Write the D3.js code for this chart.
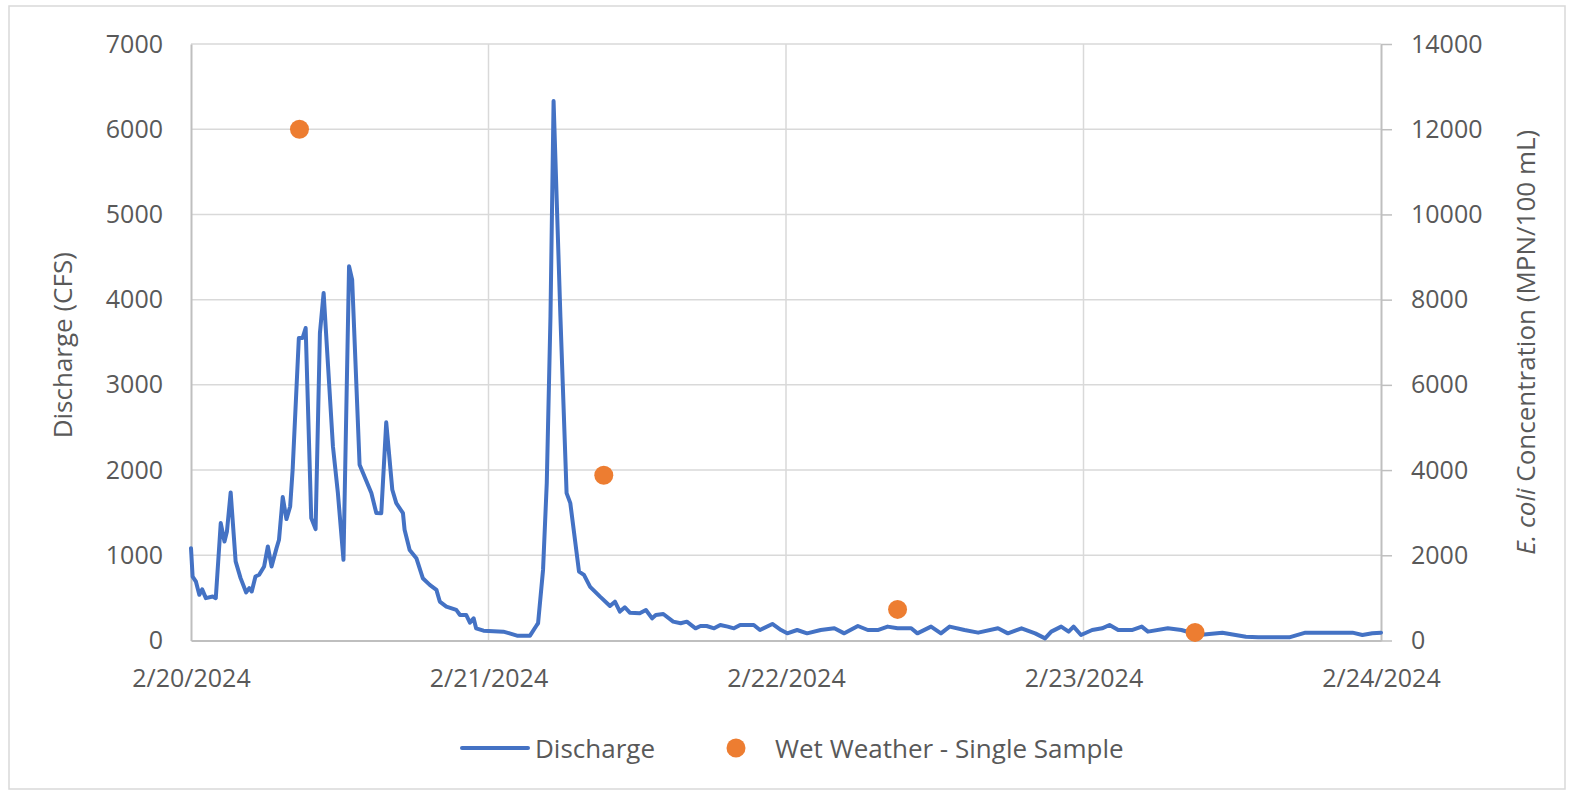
<!DOCTYPE html>
<html>
<head>
<meta charset="utf-8">
<script src="https://cdn.jsdelivr.net/npm/d3@7"></script>
<style>
  body { margin: 0; background: #fff; }
  svg { display: block; font-family: "Open Sans", sans-serif; }
</style>
</head>
<body>
<svg id="chart"></svg>
<script>
// Discharge readings: hours after 2/20/2024 00:00 and flow in CFS
const flowHours = [
  0, 0.13, 0.4, 0.67, 0.9, 1.2, 1.75, 2.0, 2.4, 2.7, 2.9, 3.2, 3.6, 4.0, 4.45, 4.7, 4.9,
  5.2, 5.5, 5.9, 6.2, 6.5, 6.9, 7.1, 7.4, 7.7, 8.0, 8.2, 8.7, 9.0, 9.25, 9.7, 10.05,
  10.4, 10.7, 11.05, 11.45, 11.85, 12.3, 12.75, 13.0, 13.6, 14.55, 14.95, 15.35, 15.75,
  16.24, 16.56, 17.1, 17.23, 17.64, 18.18, 18.7, 19.26, 19.8, 20.07, 20.6, 21.4, 21.7,
  22.2, 22.5, 22.8, 23.0, 23.6, 25.2, 25.7, 26.3, 27.35, 27.9, 28.0, 28.4, 28.7, 29.0,
  29.25, 29.8, 30.3, 30.6, 31.3, 31.7, 32.2, 33.0, 33.8, 34.2, 34.6, 35.0, 35.4, 36.2,
  36.7, 37.2, 37.5, 38.1, 38.9, 39.5, 40.0, 40.7, 41.1, 41.6, 42.2, 42.7, 43.3, 43.8,
  44.3, 44.9, 45.4, 45.9, 46.9, 47.6, 48.1, 48.9, 49.7, 50.8, 51.9, 52.7, 53.8, 54.6,
  55.4, 56.2, 57.0, 58.1, 58.6, 59.7, 60.5, 61.2, 62.4, 63.5, 65.1, 65.9, 67.0, 68.1,
  68.9, 69.4, 70.2, 70.8, 71.2, 71.8, 72.7, 73.5, 74.1, 74.8, 75.9, 76.7, 77.2, 78.8,
  79.9, 81.3, 83.2, 85.1, 86.1, 88.6, 89.9, 93.7, 94.5, 95.3, 96.0
];
const flowCfs = [
  1084, 750, 690, 536, 600, 497, 517, 497, 1378, 1162, 1280, 1738, 928, 732, 564, 614, 575,
  751, 771, 869, 1104, 869, 1084, 1182, 1683, 1425, 1573, 2004, 3550, 3550, 3667, 1436, 1307,
  3608, 4078, 3237, 2278, 1730, 947, 4391, 4235, 2063, 1730, 1495, 1494, 2560,
  1769, 1612, 1494, 1299, 1063, 966, 731, 653, 594, 457, 398, 359, 300,
  300, 210, 261, 143, 115, 104, 84, 57, 57, 182, 202, 828, 1847, 3805,
  6330, 3805, 1729, 1612, 809, 770, 630, 515, 405, 456, 339, 390, 327, 319,
  358, 260, 300, 311, 221, 202, 221, 143, 170, 170, 143, 182, 163, 143,
  182, 182, 182, 123, 194, 123, 84, 123, 84, 123, 143, 84, 170, 123,
  123, 163, 143, 143, 84, 163, 84, 163, 123, 92, 143, 84, 143, 84,
  25, 104, 163, 104, 163, 65, 123, 143, 182, 123, 123, 163, 104, 143,
  123, 65, 92, 45, 37, 37, 92, 92, 65, 84, 92
];

// Wet weather single samples: hours after 2/20/2024 00:00 and E. coli (MPN/100 mL)
const sampleHours = [8.75, 33.3, 57.0, 81.0];
const sampleEcoli = [12000, 3880, 730, 190];

// Axis ticks
const dayTicks = ['2024-02-20', '2024-02-21', '2024-02-22', '2024-02-23', '2024-02-24'];
const leftTicks = [0, 1000, 2000, 3000, 4000, 5000, 6000, 7000];
const rightTicks = [0, 2000, 4000, 6000, 8000, 10000, 12000, 14000];

document.addEventListener('DOMContentLoaded', () => {
  const width = 1575;
  const height = 795;
  const plot = { left: 191, right: 1381, top: 44, bottom: 640.5 };
  const textColor = '#595959';
  const gridColor = '#d9d9d9';
  const axisColor = '#bfbfbf';

  const parseDay = d3.timeParse('%Y-%m-%d');
  const start = parseDay(dayTicks[0]);
  const toDate = (h) => new Date(start.getTime() + h * 3600 * 1000);

  const x = d3.scaleTime()
              .domain([start, parseDay(dayTicks[dayTicks.length - 1])])
              .range([plot.left, plot.right]);
  const yLeft = d3.scaleLinear().domain([0, 7000]).range([plot.bottom, plot.top]);
  const yRight = d3.scaleLinear().domain([0, 14000]).range([plot.bottom, plot.top]);

  const svg = d3.select('#chart').attr('width', width).attr('height', height);

  // Outer chart border
  svg.append('rect')
     .attr('x', 9).attr('y', 6)
     .attr('width', 1556).attr('height', 783)
     .attr('fill', 'none')
     .attr('stroke', gridColor)
     .attr('stroke-width', 1.5);

  // Horizontal gridlines
  svg.append('g')
     .selectAll('line')
     .data(leftTicks.slice(1))
     .join('line')
     .attr('x1', plot.left).attr('x2', plot.right)
     .attr('y1', (d) => yLeft(d)).attr('y2', (d) => yLeft(d))
     .attr('stroke', gridColor).attr('stroke-width', 1.5);

  // Vertical gridlines at each day
  svg.append('g')
     .selectAll('line')
     .data(dayTicks.slice(1, -1).map(parseDay))
     .join('line')
     .attr('x1', (d) => x(d)).attr('x2', (d) => x(d))
     .attr('y1', plot.top).attr('y2', plot.bottom)
     .attr('stroke', gridColor).attr('stroke-width', 1.5);

  // Plain integer labels, no thousands separator
  const plain = d3.format('d');

  // Left axis
  const leftAxis = svg.append('g')
     .attr('transform', `translate(${plot.left},0)`)
     .call(d3.axisLeft(yLeft).tickValues(leftTicks).tickFormat(plain)
       .tickSize(0).tickPadding(28).tickSizeOuter(0));

  // Right axis
  const rightAxis = svg.append('g')
     .attr('transform', `translate(${plot.right},0)`)
     .call(d3.axisRight(yRight).tickValues(rightTicks).tickFormat(plain)
       .tickSize(11).tickPadding(19).tickSizeOuter(0));

  // Bottom axis
  const bottomAxis = svg.append('g')
     .attr('transform', `translate(0,${plot.bottom})`)
     .call(d3.axisBottom(x)
       .tickValues(dayTicks.map(parseDay))
       .tickFormat(d3.timeFormat('%-m/%-d/%Y'))
       .tickSize(0).tickPadding(29).tickSizeOuter(0));

  [leftAxis, rightAxis, bottomAxis].forEach((g) => {
    g.select('.domain').attr('stroke', axisColor).attr('stroke-width', 2);
    g.selectAll('.tick line').attr('stroke', axisColor).attr('stroke-width', 1.5);
    g.selectAll('.tick text')
     .attr('fill', textColor)
     .style('font-size', '25px')
     .style('font-family', '"Open Sans", sans-serif');
  });

  // Discharge line
  const flow = flowHours.map((h, i) => ({ date: toDate(h), value: flowCfs[i] }));
  const line = d3.line()
                 .x((d) => x(d.date))
                 .y((d) => yLeft(d.value));
  svg.append('path')
     .datum(flow)
     .attr('d', line)
     .attr('fill', 'none')
     .attr('stroke', '#4472c4')
     .attr('stroke-width', 4)
     .attr('stroke-linejoin', 'round')
     .attr('stroke-linecap', 'round');

  // E. coli samples
  const samples = sampleHours.map((h, i) => ({ date: toDate(h), value: sampleEcoli[i] }));
  svg.append('g')
     .selectAll('circle')
     .data(samples)
     .join('circle')
     .attr('cx', (d) => x(d.date))
     .attr('cy', (d) => yRight(d.value))
     .attr('r', 9.5)
     .attr('fill', '#ed7d31');

  // Axis titles
  const midY = (plot.top + plot.bottom) / 2;
  svg.append('text')
     .text('Discharge (CFS)')
     .attr('transform', `translate(62,${midY + 3}) rotate(-90)`)
     .attr('text-anchor', 'middle')
     .attr('dominant-baseline', 'central')
     .attr('fill', textColor)
     .style('font-size', '26px');

  const rightTitle = svg.append('text')
     .attr('transform', `translate(1525,${midY}) rotate(-90)`)
     .attr('text-anchor', 'middle')
     .attr('dominant-baseline', 'central')
     .attr('fill', textColor)
     .style('font-size', '26px');
  rightTitle.append('tspan').text('E. coli').style('font-style', 'italic');
  rightTitle.append('tspan').text(' Concentration (MPN/100 mL)');

  // Legend
  const legendY = 748;
  svg.append('line')
     .attr('x1', 462).attr('x2', 528)
     .attr('y1', legendY).attr('y2', legendY)
     .attr('stroke', '#4472c4').attr('stroke-width', 4)
     .attr('stroke-linecap', 'round');
  svg.append('text')
     .text('Discharge')
     .attr('x', 535).attr('y', legendY)
     .attr('dominant-baseline', 'central')
     .attr('fill', textColor)
     .style('font-size', '26px');
  svg.append('circle')
     .attr('cx', 736).attr('cy', legendY)
     .attr('r', 9.5)
     .attr('fill', '#ed7d31');
  svg.append('text')
     .text('Wet Weather - Single Sample')
     .attr('x', 775).attr('y', legendY)
     .attr('dominant-baseline', 'central')
     .attr('fill', textColor)
     .style('font-size', '26px');
});
</script>
</body>
</html>
